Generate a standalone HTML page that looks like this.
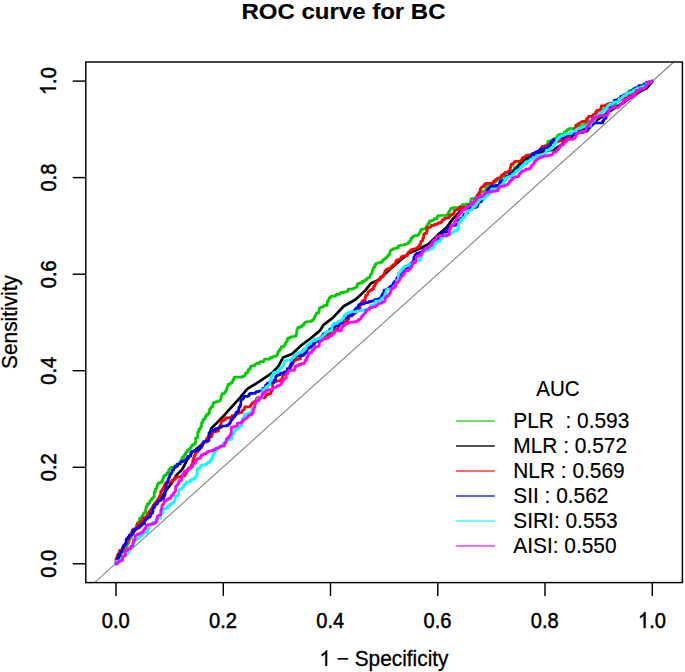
<!DOCTYPE html>
<html><head><meta charset="utf-8"><title>ROC curve for BC</title>
<style>html,body{margin:0;padding:0;background:#fff;}body{width:685px;height:672px;position:relative;overflow:hidden;font-family:"Liberation Sans",sans-serif;}</style>
</head><body>
<svg width="685" height="672" viewBox="0 0 685 672" style="position:absolute;left:0;top:0;font-family:'Liberation Sans',sans-serif;">
<rect width="685" height="672" fill="#fff"/>
<g fill="none" stroke-linecap="butt">
<line x1="94.5" y1="582.6" x2="673.8" y2="62.0" stroke="#858585" stroke-width="1.1"/>
<path d="M116.0,563.8V562.7H117.1V562.2H117.7V561.7H118.3V559.6H119.4V558.5H120V557.4H120.6V553.1H121.7V552.6H122.9V552.1H123.4V551.5H124V551H125.1V549.9H125.7V548.9H126.3V546.7H126.9V545.1H127.4V544.6H128V543H128.6V542.5H129.1V539.8H129.7V538.2H130.9V537.1H131.4V535.5H132V533.9H132.6V533.4H133.2V532.3H133.8V529.5H134.4V529H135V528.4H136.1V527.3H136.7V526.7H137.3V522.8H138.4V522.2H138.9V521.2H139.5V518.4H141.1V517.9H141.6V516.8H142.1V515.7H143.2V513.5H144.4V512.3H145.6V508.9H146.2V507.2H146.7V505.5H147.3V503.9H148.8V502.7H149.9V500.5H151V499.9H151.5V499.3H152V498.1H153.1V497.5H153.6V497H154.2V492H155.3V489.3H155.9V488.8H156.4V488.2H157V485.5H157.6V483.9H158.1V483.4H158.7V482.9H160.9V481.8H162.5V478.9H163V478.3H163.5V476.6H164V476H164.6V475.4H166.3V474.2H166.8V473H168.5V470.4H168.9V469.3H170V468.7H170.5V468.2H171V467.6H171.6V467.1H174.3V465.9H175.3V465.4H175.9V464.8H177V464.2H178.7V463.7H179.8V462.6H180.4V461.5H181V459.8H181.5V459.2H182.1V457.6H182.7V457H183.8V455.9H184.3V454.8H184.9V454.2H185.9V452H187V451.5H187.6V449.8H189.2V449.2H190.2V448.1H190.8V447.6H191.3V446.4H191.8V445.3H193.4V444.2H195.1V443.1H195.6V438H197.2V437.5H197.7V432H198.8V429.2H200.4V427.6H200.9V427.1H201.5V422.7H202.6V421H203.2V419.4H204.8V418.3H205.3V416.6H206.4V414.9H207.5V413.8H209.1V412.2H209.6V408.9H210.7V407.8H211.3V406.7H212.9V403.4H214V402.3H215.6V401.8H217.8V401.2H219.4V400.7H219.9V400.2H220.5V399.6H221V396.4H221.6V394.7H222.1V393.6H224.4V393H224.9V391.9H225.5V391.4H226V390.3H226.5V389.2H227V387.1H227.5V386.5H228V384.4H230.1V383.3H231.2V382.7H232.3V381.6H232.8V379.9H233.9V377.7H234.4V377.2H242.7V376.1H244.3V375.5H245.4V373.3H246V372.8H247.7V371.1H248.2V369.5H250V367.9H250.6V366.3H251.8V365.8H254.6V364.6H255.2V364H256.9V363.4H259.2V362.3H260.3V361.7H263.6V361.2H264.1V359.6H264.7V359.1H270.1V357.9H270.7V357.3H272.9V356.7H274V356.1H276.7V355.5H277.2V354.4H277.7V352.2H278.3V351.7H278.8V350.5H279.9V348.9H281V347.8H281.5V346.6H284.2V345.5H284.8V345H285.3V343.3H285.9V342.2H286.4V341.6H287V341.1H287.5V338.3H289.2V337.8H289.7V337.3H290.8V336.8H294.2V336.2H295.8V335.7H296.3V333.5H296.8V329.6H297.4V329H297.9V327.3H300.1V326.8H301.7V325.7H302.3V325.1H303.9V323.4H304.9V322.3H306V321.8H307.7V321.5H311.7V320.4H313.3V319.3H313.8V318.8H314.4V317.2H314.9V316.1H315.5V315H316V314H316.5V312.9H318.8V311.2H319.3V308.3H319.9V307.7H321V307.1H323.3V305.9H325V305.3H327.3V301.3H328.5V299.6H329.1V297.9H330.3V297.3H330.8V296.7H331.4V296.1H335.8V294.9H336.3V294.3H339.7V293.2H340.9V292.7H343.7V292.1H346V291.5H347.6V290.9H348.2V289.1H352.6V288.5H354.3V288H355.4V287.4H356V286.9H357.1V284.6H357.7V283.5H359.9V282.9H362.2V281.3H364.5V280.2H365.6V279.6H366.7V278.5H367.8V277.9H369.4V277.4H370V275.7H370.5V274.1H371.6V273.5H372.1V271.3H372.6V269.7H373.1V268H373.7V267.5H374.2V266.9H374.8V264.6H375.9V263.5H377.6V262.9H379.8V262.3H382V261.2H383.2V259.6H384.3V259H384.8V258.5H385.4V257.9H386.6V257.3H387.1V256.7H387.7V256.1H388.3V255H388.8V254.4H390V251.2H390.6V250.1H391.7V249.6H393.4V248.5H396.1V247.9H398.4V246.1H398.9V245.5H401.2V245H404.5V244.5H405.1V244H407.9V243.4H408.5V241.8H410.1V240.7H410.7V238.4H412.3V236.8H413.4V236.2H414.5V235.6H417.8V235.1H418.3V234.6H418.9V233.5H419.5V232.4H420.1V231.8H420.7V230.2H421.3V229.1H424.8V228.4H426.5V225.7H427.6V224.7H428.1V223.6H428.6V223H429.1V222.5H429.7V220.9H431.9V220.4H433.6V219.8H434.2V218.7H437V216.5H438.1V215.5H446.4V215H448V212.8H449.2V211.1H449.8V210.5H450.4V208.9H451V208.3H453.1V207.5H459.6V206.9H460.1V206.3H462.3V204.6H465.6V204.1H470.4V201.9H470.9V199.1H471.5V198.5H474.8V197.9H476V196.7H477.2V195.5H477.8V194.3H478.9V193.8H480V193.2H480.5V192.6H481.1V191.5H484.4V190.9H484.9V190.3H486V186.4H486.6V185.3H488.2V184.8H491V183.7H493.2V183.1H493.8V182.6H494.9V182H496V180.9H496.6V179.2H499.4V178.6H499.9V178.1H501.6V177.5H502.7V176.4H503.3V175.8H503.8V175.2H504.4V174.7H505.5V173.6H506.1V173H507.7V172.4H508.8V171.3H510.5V170.7H513.2V170.1H514.3V167.3H516.4V166.7H517V166.2H517.5V165H518.6V164.5H519.1V163.4H519.7V162.8H520.2V162.2H522.4V161.7H523.5V161.1H525.6V160.6H526.7V160H529.4V159.5H530V158.9H531.6V157.9H532.2V157.3H534.9V156.8H536V156.2H536.5V155.7H537.1V153.5H537.6V152.4H538.1V151.4H538.7V150.8H539.2V150.3H541.4V149.2H541.9V148.6H545.2V146.4H545.7V145.3H547.4V143.1H547.9V141.4H549V140.9H551.7V140.3H552.2V139.8H553.3V139.2H554.4V138.6H556V138.1H556.6V137.6H557.1V136.5H557.7V135.4H558.8V134.8H559.8V134.3H563.6V133.7H564.2V132.1H565.3V131.5H566.9V130.3H567.4V129.7H569.1V128.5H575V127.4H575.5V126.9H577.2V126.4H577.7V125.9H583.2V124.8H584.8V123.7H585.4V123.2H586.5V122.7H587V122.1H588.1V121.6H588.7V121.1H591.4V120H592V119H592.6V118.4H593.7V117.4H594.2V115.8H594.8V114.7H598.1V114.1H599.7V110.8H600.2V110.2H602.9V109.6H603.9V109H605V108.4H606.7V106.7H609.4V106.1H610V105.5H612.7V105H615.4V103.4H615.9V101.8H618V100.7H618.6V100.2H619.6V99.1H620.7V98.5H621.8V98H622.3V96.3H623.9V95.8H625.5V95.2H626.6V94.1H627.7V93.5H628.3V92.3H628.8V91.8H629.4V90.6H631.6V90H632.8V89.4H633.3V88.8H636.1V87.6H637.7V87H641V86.4H642.1V85.2H643.2V84.6H646.5V84H647V83.4H649.1V82.8H651.2V81.1H652.3" stroke="#00CD00" stroke-width="2.7" stroke-linejoin="round" stroke-linecap="round"/>
<path d="M116.0,563.8 L121.0,552.0 L126.0,543.0 L130.0,536.0 L137.0,528.0 L145.0,519.0 L150.6,510.2 L158.0,501.0 L165.0,492.0 L171.5,483.4 L176.4,475.2 L182.3,469.3 L186.8,460.4 L192.0,452.5 L200.0,446.0 L207.6,439.5 L211.3,428.4 L222.5,417.2 L234.4,403.8 L239.9,397.8 L247.3,388.9 L260.7,380.7 L272.6,372.5 L278.6,365.8 L283.0,357.6 L292.0,353.9 L300.9,345.7 L309.8,339.0 L319.9,330.8 L323.6,324.8 L332.5,318.1 L343.7,306.2 L355.6,299.5 L364.5,291.3 L371.2,283.2 L377.9,280.2 L385.4,273.5 L392.8,266.8 L400.0,260.5 L409.3,252.9 L419.8,248.5 L428.7,244.0 L437.6,235.1 L446.5,227.6 L452.5,219.4 L461.4,209.8 L470.0,205.3 L479.0,198.5 L485.0,194.8 L502.7,182.0 L516.1,168.6 L523.6,159.6 L534.0,155.0 L544.4,150.7 L553.3,150.0 L559.3,146.3 L565.2,141.8 L575.0,133.5 L586.0,127.0 L595.2,121.5 L610.0,111.0 L625.0,101.5 L638.4,92.4 L646.7,88.4 L652.3,81.1" stroke="#000000" stroke-width="2.7" stroke-linejoin="round" stroke-linecap="round"/>
<path d="M116.0,563.8V558.8H116.5V558.2H117V556.6H117.5V554.9H118V554.3H118.5V553.8H119V552.1H119.5V550.5H120.1V550H122.5V549.4H123V548.3H123.5V545.6H125V545H125.6V543.9H126.2V543.4H126.8V542.8H127.4V541.2H128V538H129.1V537.5H129.7V534.7H130.9V534.2H131.4V532.5H132V530.8H132.6V529.7H134.3V528.5H136.6V525.2H137.1V524.6H137.7V523.5H140.6V521.3H141.7V520.8H142.2V519.7H143.3V517.5H147V517H147.6V513.8H148.7V511.7H150.3V510.6H152V507.9H152.6V506.8H153.1V505.2H154.3V503.6H154.9V503.1H156V501.4H157V500.3H158.1V499.1H158.6V498H159.1V496.8H159.6V496.2H160.2V494.5H160.8V491.1H162V490H162.6V488.9H163.1V487.7H164.2V485.5H164.8V484.3H165.4V483.1H168.1V482.5H170.4V481.9H171.5V481.3H172.1V480.1H173.7V479.6H174.8V479H175.4V477.8H175.9V477.1H180.4V476.5H181.5V476H184.8V474.3H185.4V473.8H185.9V472.7H186.5V472.2H187V470H188.1V468.3H188.7V467.8H190.9V467.3H191.5V464.6H192.6V461.3H193.1V460.2H193.6V458.1H194.2V455.9H194.7V455.3H195.3V453.6H195.8V452.5H196.9V451.9H197.5V450.8H198.6V450.2H199.1V448.5H200.2V448H200.7V446.9H201.3V445.3H201.8V444.2H202.9V443.7H203.4V442.6H204V442.1H206.1V439.4H206.6V438.9H207.2V437.8H209.4V437.2H211V436.7H211.6V435.6H212.1V434H212.6V431.7H215.9V431.2H218V430.6H218.6V428.4H219.2V427.8H219.8V425.6H220.4V425H221V421.2H222.6V420.1H224.8V419.5H225.4V418.4H225.9V417.9H230.4V417.3H232.1V415.7H234.4V415.1H236V414.5H236.6V413.3H238.8V412.7H241.5V412.2H242.1V411.1H242.6V410H243.7V409.5H244.2V408.4H244.8V406.8H250.2V406.2H250.7V405.1H251.3V404.5H251.8V403.4H252.4V402.8H253.5V402.3H254.1V401.7H256.4V398.9H257V397.8H264.8V397.3H265.3V396.7H265.8V395.2H266.4V394.6H268V394.1H269.6V393.6H270.8V391.9H271.4V390.3H272.6V383.3H273.2V382.7H273.7V382.2H274.3V381.6H276.5V381H279.3V380.5H280.4V379.9H282.1V377.7H282.6V375H283.7V373.4H286V372.9H286.6V372.3H287.1V371.8H288.2V370.2H288.8V369.6H289.4V369.1H289.9V368H290.5V366.9H291V365.9H291.6V364.8H292.7V363.2H293.2V362.1H293.8V360.5H295.4V360H296V359.4H298.7V358.9H300.4V356.6H300.9V352.7H301.5V352.1H302.1V351.6H303.3V349.9H303.9V348.9H306.1V348.3H308.8V347.3H309.3V346.7H309.8V345.1H310.4V343.5H310.9V343H312.5V342.4H313.6V341.3H314.7V339.7H318.4V339.1H318.9V338H321.7V337.5H323.9V336H325V335.5H327.8V334.4H328.9V333.9H329.4V333.4H330V332.8H333.3V332.3H333.8V330.1H334.9V329.6H337.1V329H338.1V326.3H339.2V324.6H339.8V324.1H341.4V323.5H342V322.9H342.6V322.4H344.8V321.8H346.5V320.7H347.6V320.2H348.2V319H348.8V316.2H351.6V315.7H352.2V315.1H352.8V314.6H353.9V313.5H354.5V312.9H355.6V311.8H357.2V310.7H359.4V309.6H359.9V305.7H360.4V305.1H361V304.6H361.5V302.3H362V301.2H362.6V300.7H363.7V300.1H365.3V296.8H365.9V295.1H367.5V294H368V291.8H369.1V291.3H369.7V290.7H370.2V290.2H371.9V289.1H373.5V286.4H374.7V285.3H375.2V283.2H376.4V281.6H377.5V281H378.1V279.9H379.8V279.4H380.3V277.2H382.6V276.6H383.2V275.5H383.8V274.4H384.4V272.6H384.9V270.9H385.5V270.4H386.1V269.8H386.7V269.2H388.4V268.6H390.7V268H391.3V266.2H392.3V265.7H392.9V265.1H393.4V264.5H394.4V264H395.5V262.2H396V260.5H397.1V260H398.7V259.4H400.8V257.7H401.4V256.6H403V256H406.9V255.5H407.5V253.3H408.6V251.6H410.8V249.9H412.4V249.4H413.5V249H415.2V248.5H416.8V248H417.4V247.4H418V246.9H418.5V246.4H419.1V245.3H419.7V244.8H420.3V244.2H420.8V241.5H421.4V241H422.6V238.8H423.2V237.8H423.7V234H424.9V233.4H426.6V231.3H427.2V227.5H430V227H431.1V225.4H434.4V224.4H436.5V223.9H438.2V222.8H441V221.8H442.1V220.2H442.7V219.6H444.4V218.4H446.7V217.8H448.9V217.2H449.5V216.6H450V215.4H451.1V214.9H451.6V214.3H453.2V213.7H453.8V212.6H454.4V210.5H455.6V210H456.8V209.5H458.9V209H459.5V207.4H467.4V206.8H470.8V206.2H471.9V205.7H472.5V203.9H473.6V203.3H474.1V201.1H474.7V200H476.3V197.8H477.4V195.2H478V194.7H478.6V193.6H479.1V192.5H479.7V191.9H480.2V189.2H480.7V188.6H481.2V187.5H481.7V187H483.3V185.9H484.4V184.3H485V183.9H486.1V183.4H492.3V182.9H492.8V182.3H493.4V181.3H495V180.2H495.5V179.6H497.2V178.5H497.7V178H500.4V176.9H501.5V175.2H502.6V174.7H503.7V174.1H504.2V173H505.3V172.4H508.6V170.8H509.7V170.2H510.2V167.5H510.7V165.8H511.3V164.1H513.5V163H514.1V161.9H515.1V161.3H520.5V160.7H521V160.1H522.1V157.8H523.2V157.3H524.9V156.3H526V155.7H527.1V155.2H531.5V154.1H532.1V153.6H533.7V153.1H534.8V152.6H535.4V152H536.5V151.5H538.6V150.9H540.2V149.8H540.8V149.2H541.3V147.5H541.8V146.9H542.4V146.3H545.1V145.8H547.8V144.8H549.5V144.2H550.6V143H552.9V142.4H554V141.8H557.9V140.8H562.7V140.3H563.8V138.7H566.1V138.1H566.6V137.6H567.7V137H568.9V136.5H570V133.8H570.5V133.2H571.1V132.7H572.7V131.7H573.2V130.6H574.3V129.5H574.8V129H575.9V125.2H577.6V124.6H578.1V123.5H579.8V123H580.3V122.5H581.4V121.9H582.5V121.3H585.8V120.8H586.3V119.7H586.9V118.6H588V116.9H589.1V116.3H593V114.7H594.1V114.1H595.2V113.6H595.7V111.9H596.8V110.3H599.6V109.7H600.7V108.6H601.2V105.9H605.5V105.2H607.1V104.1H608.7V103.6H612V103.1H614.2V102.6H615.3V102H615.8V101.5H616.9V101H618V100.5H619.6V100H620.2V99.4H623.4V98.4H624V97.9H624.5V96.8H629.4V95.7H630V95.2H631.1V94.6H632.7V94.1H633.9V92.9H636.1V92.4H637.2V91.8H638.3V90.1H638.9V89.6H639.4V89H642.2V88.4H643.2V86.1H646.5V85H647.5V84.4H648.1V83.9H649.1V82.2H649.6V81.7H652.3V81.1" stroke="#FF0000" stroke-width="2.7" stroke-linejoin="round" stroke-linecap="round"/>
<path d="M116.0,563.8H117V559.1H117.5V558H118V557.5H118.5V554.3H119.6V553.2H120.7V552.1H121.3V551H121.8V550.5H122.4V547.8H122.9V547.3H123.5V545.6H124.5V544.5H125V544H125.6V543.4H126.1V539.5H126.6V538.9H127.2V538.3H127.7V537.8H128.2V537.2H128.7V536.6H129.3V535.5H129.8V535H132V532.8H132.5V532.2H133.1V530H133.6V529.5H135.8V529H136.9V528.4H138V527.9H138.6V527.4H139.7V526.8H140.2V526.3H140.8V525.7H141.4V524.7H142.5V524.1H143V523.6H144.7V520.9H145.2V519.9H145.8V519.3H146.8V518.8H147.4V518.2H147.9V517.2H150.1V516.1H150.6V513.9H151.2V513.3H152.4V512.2H153V508.3H153.6V507.2H154.7V505.6H155.3V504.5H156.4V504H157.5V502.4H158.1V501.3H158.7V500.7H160.4V500.2H161V499.6H161.6V499H163.3V497.9H163.9V496.3H164.5V494.7H165.1V489.8H165.7V489.3H166.3V483.3H166.9V482.2H167.4V481.6H167.9V480H168.5V478.3H169.1V477.2H169.7V474.9H170.3V474.3H170.9V473.7H171.5V472.6H172.1V471H172.6V469.9H173.8V468.3H174.3V467.8H174.9V467.3H175.4V466.7H176.5V466.2H177.6V464H180.3V462.3H180.8V461.8H182.5V461.3H183.6V460.7H185.3V459.7H185.9V459.1H186.4V458.6H187V458H187.5V456.4H189.8V455.9H190.9V452H192V451.4H194.2V450.9H194.8V450.3H198.1V449.8H198.7V449.2H199.8V448.1H200.4V447.6H201.5V445.9H202.1V445.4H202.6V443.7H203.2V442.6H203.8V441.5H207.8V441H208.4V440.5H209V432.9H210.1V431.3H211.3V430.8H212.4V430.2H214.6V429.7H215.1V429.2H215.7V428.7H217.9V428.1H219V427.6H220V427.1H221.7V426.5H222.2V426H226.6V425.4H228.3V424.3H228.8V423.8H229.9V422.7H230.5V421.6H231V419.9H231.6V419.4H232.7V418.3H233.3V417.2H234.4V416.1H235V415.5H235.5V413.8H236.1V412.6H236.7V412.1H237.2V411.5H238.3V410.4H238.9V407.1H240.2V405.4H240.8V400H241.9V399.5H242.5V398.4H243.6V396.3H248.1V395.7H249.2V393.9H250.3V393.3H255.4V392.7H255.9V392.1H256.5V391.6H258.8V391H261.6V390.4H262.8V388.3H265V387.2H265.6V385H266.8V384.5H267.3V383.4H268.5V382.9H273.4V381.8H274V380.2H275.1V379.6H275.6V376.9H276.2V375.8H277.3V375.2H278.9V374.7H280V373.6H280.6V373H283.9V372.5H284.5V371.9H287.2V368.6H289.9V365.8H290.4V365.3H290.9V363.6H292V360.9H292.6V360.4H293.1V358.8H293.7V358.2H294.2V356.6H296.4V356.1H300.7V355.6H302.8V355.1H303.9V354H305V352.9H306V352.3H306.6V351.2H307.1V349.5H307.7V347.8H309.8V347.2H311.4V346H312V344.9H313.6V343.7H314.7V342.6H315.3V342H315.8V341.4H317.9V340.3H319.5V338.6H320V338H321.6V336.4H322.1V335.8H322.7V334.7H323.2V334.2H323.7V333.6H324.8V333.1H326.4V332.5H326.9V332H329.1V330.9H329.7V329.3H330.8V328.7H331.9V328.2H333V327.6H333.5V327.1H335.2V326H336.3V325.5H339V323.3H341.2V322.7H341.8V321.6H342.3V319.9H342.8V319.3H343.9V318.7H345V318.2H347.1V317.6H347.7V317H348.2V315.3H350.5V314.8H352.8V313.1H353.3V311.9H353.9V310.8H354.5V310.2H355V309.6H355.6V308.5H356.7V307.5H358.3V305.4H359.4V304.3H360.4V303.8H364.2V302.7H367.9V302.2H369V301.6H371.2V301.1H373.5V300.6H374.6V299.5H377.9V299H379.6V298.4H380.2V297.9H381.3V296.2H381.8V295.7H382.4V294H382.9V293.5H384V290.2H386.2V289.6H386.8V289.1H387.9V288.5H388.5V288H389.6V286.9H391.3V285.8H392.3V285.3H392.9V284.2H393.4V283.1H393.9V282.6H394.4V282.1H395V281H396.6V278.8H397.1V277.7H398.3V276.6H400V275H400.6V274.5H401.7V273.4H402.2V272.8H403.3V270.7H404.4V269.6H405V268H407.8V266.9H408.3V265.8H408.9V264.7H410.5V264.1H411.1V263H412.2V262.4H412.7V261.9H413.3V260.7H413.8V257.4H414.3V256.9H414.9V255.3H415.4V254.7H416V254.2H416.5V253.7H417.1V253.1H419.8V252.6H420.4V252.1H421.5V251.5H422V251H423.1V249.9H423.6V249.3H425.2V248.8H425.7V248.2H426.8V247.7H427.9V247.1H428.4V246.6H428.9V246H430V245.5H430.5V243.8H431.1V243.3H435.4V242.7H435.9V241.1H436.5V240.5H437V240H437.5V239.4H438.1V238.9H438.6V237.7H439.2V237.2H439.7V236.6H440.2V236H441.9V233.8H442.4V232.7H442.9V232.1H446.8V231.5H447.3V229.9H447.9V228.8H448.4V227.7H449.5V226.1H451.8V225.5H455.1V225H457.3V223.9H458.4V220.6H459V220H460.1V219.5H460.7V218.4H461.9V217.8H463V217.3H463.6V215.1H464.2V214H467V212.9H467.5V210.7H468.1V210.2H468.7V209.6H469.8V208.1H470.3V207.5H475.9V207H477V206.4H477.5V205.3H478V203.6H478.5V201.9H481.3V199.6H482.9V198H483.4V197.4H483.9V194.6H485.5V194.1H486V193.5H486.5V193H487V192.5H487.5V189.8H488V188.7H489.1V188.1H489.6V187H490.8V186.4H492V185.8H495.9V185.3H499.1V184.7H499.7V182.1H500.2V181H501.3V180.5H505.1V180H505.7V177.3H506.2V176.7H507.8V176.2H509.5V174H511.7V173.5H512.8V172.9H514.5V171.3H515V170.3H516.1V169.2H518.4V168.7H518.9V168.2H520V167.6H520.6V167.1H521.7V166H522.3V165.5H523.4V165H523.9V163.9H524.5V163.4H526.2V162.3H527.8V161.7H528.4V160.1H529.5V159.6H530.1V156.9H531.2V155.8H531.7V154.7H534V153.1H535.7V152H537.4V151.5H539.1V150.4H539.6V149.8H540.2V149.2H544.6V148.1H547.4V147H548.5V145.8H549.5V145.3H550.6V143H551.1V141.8H552.2V141.2H552.8V140.6H553.3V140H553.9V139.4H557.2V138.8H558.4V138.2H562.8V137.1H565V136H565.6V135.4H566.1V134.9H569.4V134.3H576.9V132.5H583.4V131.5H586.7V130.5H587.8V128.3H589.4V127.7H589.9V126H591.6V124.9H592.1V124.4H593.2V123.8H593.7V123H602.6V120.8H603.8V119.2H604.4V118.6H605.6V118H606.1V115.2H606.6V114.1H607.1V112.4H607.7V111.3H608.3V110.2H608.8V109.7H610V108H610.6V107.5H611.7V105.3H612.3V104.3H613.4V103.7H613.9V101.1H614.5V100H617.7V99.5H618.2V98.9H619.3V98.4H620.4V97.4H620.9V96.3H623.1V95.2H625.2V94.7H625.7V94.2H626.8V93.1H629.5V92H630.6V91.5H632.2V90.4H632.8V89.9H633.4V89.4H634.5V88.3H636.2V87.8H636.7V87.3H638.4V86.7H638.9V85.5H644.3V83.8H645.9V83.2H646.4V82.7H647V82.2H651.8V81.1H652.3" stroke="#0000FF" stroke-width="2.7" stroke-linejoin="round" stroke-linecap="round"/>
<path d="M116.0,563.8V562.7H116.6V561H119.5V560.5H120.1V560H121.2V558.9H122.3V556.8H122.8V556.3H124.4V555.7H125V555.2H125.5V554.6H127.1V554.1H127.7V553.5H128.2V551.9H128.7V550.7H129.3V548.5H129.8V547.4H131.4V546.8H132V546.3H132.5V545.7H133.6V543H134.2V542.4H134.7V540.2H136.4V538.5H138V537.9H139.1V536.8H139.7V536.3H141.4V535.7H142.5V533.5H143.6V532.4H147V531.3H148.1V529.1H148.6V528H149.2V525.8H149.8V525.2H150.9V524.6H152V523.5H152.6V522.4H156V518.5H160.5V515.1H161.1V514H162.2V512.9H162.7V512.4H163.3V509.6H163.9V509.1H164.4V508.5H166.7V507.9H167.8V505.7H170V504.1H171.1V503.5H172.7V502.5H174.3V500.3H174.8V498.7H175.4V496.5H175.9V496H177V495.5H177.5V494.9H178.6V490.1H179.2V489.5H180.8V489H181.9V487.9H182.5V486.8H183V486.3H184.1V484.6H185.3V484.1H185.8V483.5H186.4V481.9H190.2V480.2H191.2V479.7H192.3V479.2H194.5V477.5H195.6V477H196.1V476.4H196.7V474.2H197.2V469.3H198.3V468.2H199.5V467.6H200.6V465.9H201.2V465.4H201.8V464.8H206.2V464.3H206.8V463.2H207.9V462.7H209.5V461.1H210.6V460H211.2V458.4H212.8V455.7H213.4V454.6H214V453H214.5V451.9H215.1V451.4H215.6V450.9H216.2V450.3H216.7V449.8H217.2V448.7H218.3V448.2H218.8V447.6H219.9V447.1H220.4V446.5H221.5V446H222.6V444.4H223.7V442.7H225.9V440.6H227V440H228.6V439.5H231.4V438.4H232V434.9H232.6V434.4H233.2V433.2H234.4V431.6H234.9V429.9H236V429.4H236.6V428.8H237.1V428.3H238.8V427.2H239.3V426.6H240.4V426.1H241.5V425H242V419H243.7V417.3H244.2V416.2H244.8V414.1H248.3V413H250V412.5H250.6V411.9H251.7V408.6H253.4V407.5H254V406.5H255.1V404.3H256.2V401H257.3V399.4H257.9V398.9H259V398.3H260.7V397.8H261.2V397.3H262.3V390.8H262.8V389.7H263.9V389.1H264.4V388.6H265.5V387.5H266.1V387H266.6V386.4H268.2V385.9H268.7V384.8H269.8V381.5H270.4V379.9H271.5V375.5H273.1V373.2H273.7V372.7H275.3V372.1H278.1V371.6H278.6V371H279.1V369.3H279.7V368.2H280.7V367.7H281.8V367.1H282.4V366H282.9V365.4H283.4V364.3H284V362.1H284.5V360.9H286.1V360.3H291.5V359.1H292V358H293.6V357H294.1V356.4H295.2V355.3H295.8V354.8H296.8V353.7H297.4V353.2H298.4V352.6H300V352.1H302.2V351.5H302.7V351H303.8V349.3H304.3V348.7H305.9V347.6H306.5V345.9H307V345.3H307.5V344.8H308.6V344.2H309.2V343.7H310.8V342H311.8V341.5H312.4V340.9H312.9V340.4H316.1V339.4H316.7V338.8H318.8V338.3H321.1V337.7H321.7V336.6H322.8V335.6H323.4V335H324V334.5H325.1V333.4H325.7V332.4H326.9V331.8H328.6V331.3H329.2V330.8H331.4V329.7H331.9V326H332.5V324.9H333.6V323.3H337.4V322.2H338V321.7H339.1V321.2H340.3V320.6H342V319.5H342.6V319H343.1V318.5H343.7V316.8H344.3V315.1H344.8V314.6H346V313.5H348.2V312.9H349.3V312.3H351V311.6H357.1V311H361.1V310.4H365V309.3H368.3V308.7H370V307.6H370.5V305.4H374.3V304.3H374.8V302.6H375.3V301H379.7V300.4H381.3V298.6H382.4V298H382.9V297.5H384.5V294.8H385V294.2H385.6V292.6H386.1V290.5H386.6V289.5H387.7V289H392.1V288.4H392.7V287.9H393.3V286.8H394.4V285.7H395.6V285.1H396.2V282.9H396.7V280.7H397.3V280.2H398.4V273.1H399.6V272.6H400.2V271.5H400.8V270.4H401.9V268.8H403.5V267.2H404.1V266.7H405.7V266.1H406.8V265.6H408.9V264H412.7V262.9H413.8V262.3H414.4V261.7H416V261.2H416.5V260.6H419.8V258.9H420.4V258.3H420.9V257.8H421.5V255.5H422V254.4H422.6V253.8H423.1V252.7H423.7V251.6H424.3V251H427.6V250.5H428.7V249.9H429.2V249.4H429.8V248.3H432.5V246.6H434.1V245.5H434.7V242.8H436.8V242.2H437.4V241.7H439V241.1H439.5V240.6H440.6V239H441.1V238.4H442.2V237.4H442.8V236.3H446.6V235.7H447.2V234.7H449.9V234.1H451V233.1H452.1V232H453.7V231.4H454.2V230.9H456.4V230.3H457.4V229.8H458V227.6H458.5V222.7H459.6V221.6H460.6V219.9H462.3V218.8H462.8V218.3H463.3V217.7H464.4V217.2H465V215H465.5V213.9H466.6V211.7H467.2V211.2H468.3V210.6H470.5V210.1H471.1V209.5H472.7V206.8H474.4V206.3H475.5V205.7H476.1V204.6H476.7V202.5H478.3V201.4H478.9V199.8H480V199.2H482.3V198.7H484V198.1H485.1V197.6H485.6V196H486.2V195.4H488.4V194.3H489V193.8H489.5V193.2H490.1V192.7H490.6V192.1H491.2V189.4H492.8V188.8H497.7V188.2H498.7V187.6H499.8V186.4H500.4V185.3H501.5V184.7H502.1V184.2H503.2V183.1H503.8V181.4H504.4V180.8H504.9V179.7H505.5V178.6H506.1V178.1H506.6V177.5H508.3V176.9H509.4V176.3H512.2V174.6H512.8V174H514.4V173.5H515V172.3H516.1V171.2H517.2V170.1H518.9V169.6H519.5V169H520V168.5H520.6V166.8H521.7V166.3H522.8V165.7H524V165.2H524.5V164.1H525.1V162.9H525.7V162.4H526.8V161.8H528.5V161.2H529.1V160.6H530.2V159.5H531.9V158.9H533.1V157.3H536.4V155.7H538.1V155.2H541.9V154.6H544.6V154H545.1V153.5H545.7V152.3H546.2V150.6H546.8V150H549.4V149.4H550V148.8H551.6V148.3H552.1V147.7H552.7V147.1H553.2V146H553.7V145.4H554.8V143.7H555.4V143.2H555.9V142.1H556.5V139.4H557.6V138.4H558.7V137.3H560.3V136.7H560.9V136.1H561.4V135.5H564V134.9H565.1V133.8H570V133.3H571.7V131.7H572.8V131.2H576.1V129.5H577.2V128.9H579.4V128.3H581.1V127.7H581.7V127.2H583.3V126.6H585V126H590.1V125.4H590.6V122.7H591.8V122.1H592.4V121.6H593.5V120.4H594.6V119.3H595.2V116.6H596.3V116H597.4V115.5H598V114.9H599.1V113.8H599.6V113.3H600.2V112.7H602.4V111.1H604.1V110H604.6V109.4H605.2V108.9H606.8V107.8H607.4V106.1H607.9V105.5H609V105H609.6V104.4H612.4V103.8H613.5V102.1H616.4V101.5H618V101H618.6V100.4H619.1V98.8H621.3V98.2H622.3V97.1H622.9V96H624.5V95.5H626.1V94.3H626.7V93.2H630V92.6H630.6V92H632.2V91.5H633.3V90.3H635V89.7H635.6V89.1H637.3V87.9H640.7V87.3H641.3V86.8H642.9V86.2H645.7V85.2H646.2V83.6H647.9V82.6H650.6V81.6H652.3V81.1" stroke="#00FFFF" stroke-width="2.7" stroke-linejoin="round" stroke-linecap="round"/>
<path d="M116.0,563.8V563.2H117.6V562H119.3V560.8H121.5V560.3H122.6V556.4H123.7V555.9H125.3V551.5H125.8V550.9H126.8V550.4H127.3V549.3H128.4V548.7H130.6V547H131.2V545.9H132.8V542.6H133.4V539.8H135V535.3H136.7V534.8H137.2V534.2H140V533.1H141.1V532.5H142.8V530.9H143.9V529.3H145V528.2H146.1V525.5H147.7V524.5H150.4V524.1H152.5V523.6H154.7V523.1H155.3V522.5H155.8V522H156.9V518.8H157.4V516.1H158V515.6H159.1V515H160.8V510.1H161.4V508.4H161.9V505.7H162.5V504.6H163.6V503.5H164.1V501.2H165.8V500.7H166.3V500.1H166.9V499.6H168.5V498.4H170.7V496.8H171.2V495.7H172.3V495.1H173.4V493.4H174V492.9H174.5V491.8H175.1V491.2H175.6V486.4H176.2V485.8H176.7V485.3H177.3V484.8H177.8V483.7H178.4V483.1H178.9V480.9H180.5V480.3H181.5V478.6H182V477.5H182.6V474.2H183.1V473.6H184.2V471.9H185.3V470.8H187.6V470.3H188.1V469.2H188.7V468.6H190.4V467H192.7V464.8H193.3V463.7H194.9V463.2H195.5V460.5H196.6V458.9H198.3V458.3H200.5V456.6H201.1V455.4H202.2V454.9H203.3V454.3H203.9V453.7H206.1V453.2H206.6V452.6H207.7V451.5H209.3V451H212V450.4H213.1V449.9H214.7V449.4H215.3V448.8H215.8V448.3H217.5V447.8H218.6V447.3H219.7V446.7H220.3V446.2H223.6V445.6H224.7V442.9H225.8V442.3H226.3V439H226.9V438.4H228V437.9H228.5V436.7H229.7V435.6H230.2V434.5H230.8V433.4H231.4V427.2H233.6V426.7H234.7V426.1H237.4V423.2H241.2V422H242.8V420.2H244.4V419H244.9V418.5H246.5V417.9H247.1V417.3H248.1V416.2H248.7V415H250.8V414.4H252V413.3H252.6V412.8H253.2V410H253.8V408.3H254.3V407.2H254.9V403.3H256V401.1H257V400.6H259.2V397.8H260.9V397.2H261.5V396.1H262V394.3H263.1V392.6H264.8V392H265.4V391.4H266.5V390.2H268.3V389.6H271.6V389.1H272.2V388.5H273.3V388H274.4V387.5H276V387H276.6V386.4H277.1V385.9H278.8V385.3H279.9V384.8H281.1V382.5H282.2V381.9H282.8V380.8H283.4V379.6H284.5V378H286.2V373.7H287.9V371H289V370.4H294.4V368.8H294.9V367.6H295.5V366.4H296.1V365.8H298.4V364.7H300.6V364.2H301.2V363.6H304.5V362.5H305V360.4H306.7V357.2H307.7V356.1H308.3V354H308.9V353.4H309.4V352.9H311.7V351.3H312.2V350.2H313.3V349.7H313.9V349.1H314.4V347.6H316.1V346.5H318.8V345.4H319.4V342.2H319.9V341.1H320.5V340.6H322.1V339.5H323.8V339H325.9V338.5H327.5V337.9H328.1V337.4H329.1V336.3H330.2V335.7H331.8V335.2H332.3V334.1H333.4V333.5H334.5V331.9H335V331.4H335.6V330.8H340.9V330.3H341.5V328.1H342V327.5H342.5V326.4H343.1V325.9H343.6V325.3H345.2V324.2H345.7V323.6H347.9V323H349V322.4H352.3V321.8H356.1V321.2H358.3V319.6H359.9V319H360.4V318.5H361V317.4H361.5V316.9H362V315.8H362.6V315.3H363.7V314.2H364.2V313.6H364.8V313.1H365.3V312.6H365.9V310.4H367.5V309.9H369.1V308.7H369.7V307.6H372.4V307H374.6V306.4H375.7V305.8H376.3V305.3H377.4V304.7H378V303.5H381.3V303H381.8V302.4H382.4V301.8H384V301.3H385.1V298.6H385.7V297H386.8V295.9H388.5V294.8H389V294.2H389.6V293.7H390.2V292.5H390.7V289.7H391.3V289.1H393V288H393.5V287.5H395.2V286.4H395.8V283.2H396.3V282.7H398V282.1H398.6V281H399.1V280.5H399.7V279.4H400.2V277.8H400.7V277.3H401.2V276.7H401.8V275.6H403.3V273.5H404.9V270.8H408.3V270.3H408.9V269.2H410.6V267.5H411.2V267H411.7V266.4H412.3V263.7H413.4V263.1H413.9V262.6H415.6V261.5H416.1V257H417.2V256.5H417.8V255.9H418.8V255.4H421V253.7H422.1V252.1H422.6V250.4H424.2V249.9H424.7V248.8H425.3V248.2H428V247.1H428.5V246.6H429.6V245.5H431.7V243.2H432.3V242.7H432.8V241H433.4V240.4H434.5V239.9H435.1V239.3H436.3V237.1H436.8V236.5H439.7V236H440.2V235.6H446.5V235.1H448.7V234.5H449.3V229.5H450.4V227.2H451V225.6H452.2V224.5H454.5V221.8H455V221.2H456.2V219.6H456.7V218.5H457.3V217.5H457.8V216.4H458.3V214.8H459.4V214.2H459.9V213.2H461V212.1H462V210H464.1V209.4H465.7V207.7H466.2V206.6H468.5V206H470.2V205.4H470.8V204.2H472.5V203H473.1V201.9H474.8V200.7H476V197.9H477.1V197.3H479.3V196.8H481V195.7H483.2V195.1H484.2V194.1H484.8V193H485.3V192.5H488.8V191.7H492.8V191.2H496.8V190.7H497.9V189.1H498.5V187.5H499.6V186.4H503.6V185.8H505.3V185.2H506.4V184.7H508.1V184.1H508.7V183H509.2V181.3H510.8V180.2H511.4V179.7H512.5V178H514.1V177.5H515.1V176.9H517.3V176.4H518.4V175.8H519V174.1H520.1V173H520.6V172.5H521.2V171.9H521.7V171.4H522.8V170.8H524.5V170.3H525.6V169.2H528.9V168.6H530.6V167.5H531.1V165.9H531.7V165.4H532.8V164.3H533.3V163.8H533.9V163.2H534.4V161.6H535V161.1H536V160H537.1V159H538.2V158.5H539.3V157.9H539.8V157.4H541.9V156.9H543V156.3H544.1V155.8H548.4V155.2H551.7V154.7H552.3V154.1H552.9V153.1H553.5V152.6H554V152H556.3V150.3H557.4V149.8H558V149.2H558.6V148H559.1V147.5H560.2V146.3H560.8V145.7H561.3V145.2H561.9V144.6H564V143.5H564.6V142.3H565.2V141.7H566.3V140.6H566.9V139.4H572.5V138.9H573.1V138.3H574.8V137.3H575.3V136.8H575.9V134.1H576.4V133.6H578.1V132.5H579.8V132H581.9V131.4H584.7V130.8H585.2V130.2H585.8V129.6H586.3V127.3H586.9V126.7H587.5V126.2H588.1V125.1H589.3V124.5H589.8V121.8H591.5V121.3H592.6V120.7H593.1V118.6H595.4V117.4H595.9V116.8H598.7V116.2H599.8V115.6H605.8V115.1H607.4V114.5H608V111.8H608.5V111.2H609V110.1H609.6V109.6H610.1V109H611.2V108.4H611.8V107.9H612.3V107.3H618.4V106.7H619V106.2H619.6V105.1H620.1V104.5H621.2V104H622.4V103.4H623.5V100.2H626.3V99.6H627.4V99.1H627.9V98.6H629.1V97.5H629.6V97H633V95.3H633.5V94.8H635.2V93.7H635.8V92H636.3V90.3H640.2V88.5H644.7V87.3H645.8V86.2H646.4V84.6H647.6V83.5H648.2V82.9H649.4V81.7H652.3V81.1" stroke="#FF00FF" stroke-width="2.7" stroke-linejoin="round" stroke-linecap="round"/>
</g>
<g fill="none" stroke="#000" stroke-width="1.45" stroke-linecap="square">
<rect x="85.8" y="62" width="596.6" height="520.6"/>
</g><g fill="none" stroke="#000" stroke-width="1.45" stroke-linecap="butt">
<line x1="116.0" y1="582.6" x2="116.0" y2="595.9"/>
<line x1="72.7" y1="563.8" x2="85.8" y2="563.8"/>
<line x1="223.3" y1="582.6" x2="223.3" y2="595.9"/>
<line x1="72.7" y1="467.3" x2="85.8" y2="467.3"/>
<line x1="330.5" y1="582.6" x2="330.5" y2="595.9"/>
<line x1="72.7" y1="370.7" x2="85.8" y2="370.7"/>
<line x1="437.8" y1="582.6" x2="437.8" y2="595.9"/>
<line x1="72.7" y1="274.2" x2="85.8" y2="274.2"/>
<line x1="545.0" y1="582.6" x2="545.0" y2="595.9"/>
<line x1="72.7" y1="177.6" x2="85.8" y2="177.6"/>
<line x1="652.3" y1="582.6" x2="652.3" y2="595.9"/>
<line x1="72.7" y1="81.1" x2="85.8" y2="81.1"/>
</g>
<g fill="#000">
<text transform="translate(115.70,628.00) scale(0.905,1)" text-anchor="middle" font-size="22.2" stroke="#000" stroke-width="0.5" xml:space="preserve">0.0</text>
<text transform="translate(55.90,563.80) rotate(-90) scale(0.905,1)" text-anchor="middle" font-size="22.2" stroke="#000" stroke-width="0.5" xml:space="preserve">0.0</text>
<text transform="translate(222.96,628.00) scale(0.905,1)" text-anchor="middle" font-size="22.2" stroke="#000" stroke-width="0.5" xml:space="preserve">0.2</text>
<text transform="translate(55.90,467.26) rotate(-90) scale(0.905,1)" text-anchor="middle" font-size="22.2" stroke="#000" stroke-width="0.5" xml:space="preserve">0.2</text>
<text transform="translate(330.22,628.00) scale(0.905,1)" text-anchor="middle" font-size="22.2" stroke="#000" stroke-width="0.5" xml:space="preserve">0.4</text>
<text transform="translate(55.90,370.72) rotate(-90) scale(0.905,1)" text-anchor="middle" font-size="22.2" stroke="#000" stroke-width="0.5" xml:space="preserve">0.4</text>
<text transform="translate(437.48,628.00) scale(0.905,1)" text-anchor="middle" font-size="22.2" stroke="#000" stroke-width="0.5" xml:space="preserve">0.6</text>
<text transform="translate(55.90,274.18) rotate(-90) scale(0.905,1)" text-anchor="middle" font-size="22.2" stroke="#000" stroke-width="0.5" xml:space="preserve">0.6</text>
<text transform="translate(544.74,628.00) scale(0.905,1)" text-anchor="middle" font-size="22.2" stroke="#000" stroke-width="0.5" xml:space="preserve">0.8</text>
<text transform="translate(55.90,177.64) rotate(-90) scale(0.905,1)" text-anchor="middle" font-size="22.2" stroke="#000" stroke-width="0.5" xml:space="preserve">0.8</text>
<g transform="translate(652.00,628.00) scale(0.905,1)"><path transform="translate(-15.43,0) scale(0.01084,-0.01084)" d="M763 0H583V1147Q518 1085 412.5 1023Q307 961 223 930V1104Q374 1175 487 1276Q600 1377 647 1472H763Z" stroke="#000" stroke-width="46.1"/><text x="-3.09" y="0" text-anchor="start" font-size="22.2" stroke="#000" stroke-width="0.5" xml:space="preserve">.0</text></g>
<g transform="translate(55.90,81.10) rotate(-90) scale(0.905,1)"><path transform="translate(-15.43,0) scale(0.01084,-0.01084)" d="M763 0H583V1147Q518 1085 412.5 1023Q307 961 223 930V1104Q374 1175 487 1276Q600 1377 647 1472H763Z" stroke="#000" stroke-width="46.1"/><text x="-3.09" y="0" text-anchor="start" font-size="22.2" stroke="#000" stroke-width="0.5" xml:space="preserve">.0</text></g>
<g transform="translate(384.00,665.90) scale(0.970,1)"><path transform="translate(-66.62,0) scale(0.01050,-0.01050)" d="M763 0H583V1147Q518 1085 412.5 1023Q307 961 223 930V1104Q374 1175 487 1276Q600 1377 647 1472H763Z" stroke="#000" stroke-width="28.6"/><text x="-54.66" y="0" text-anchor="start" font-size="21.5" stroke="#000" stroke-width="0.3" xml:space="preserve"> − Specificity</text></g>
<text transform="translate(17.20,322.00) rotate(-90) scale(0.970,1)" text-anchor="middle" font-size="21.5" stroke="#000" stroke-width="0.3" xml:space="preserve">Sensitivity</text>
<text transform="translate(343.50,18.70) scale(1.092,1)" text-anchor="middle" font-size="22.0" font-weight="bold" stroke="#000" stroke-width="0.15" xml:space="preserve">ROC curve for BC</text>
<text transform="translate(558.00,395.60) scale(0.970,1)" text-anchor="middle" font-size="21.2" stroke="#000" stroke-width="0.18" xml:space="preserve">AUC</text>
<line x1="456" y1="421.0" x2="494.8" y2="421.0" stroke="#00CD00" stroke-width="1.5" stroke-opacity="0.78"/>
<text transform="translate(513.30,428.20) scale(0.985,1)" text-anchor="start" font-size="21.2" stroke="#000" stroke-width="0.18" xml:space="preserve">PLR  : 0.593</text>
<line x1="456" y1="446.0" x2="494.8" y2="446.0" stroke="#000000" stroke-width="1.5" stroke-opacity="0.9"/>
<text transform="translate(513.30,453.20) scale(0.985,1)" text-anchor="start" font-size="21.2" stroke="#000" stroke-width="0.18" xml:space="preserve">MLR : 0.572</text>
<line x1="456" y1="471.0" x2="494.8" y2="471.0" stroke="#FF0000" stroke-width="1.5" stroke-opacity="0.78"/>
<text transform="translate(513.30,478.20) scale(0.985,1)" text-anchor="start" font-size="21.2" stroke="#000" stroke-width="0.18" xml:space="preserve">NLR : 0.569</text>
<line x1="456" y1="496.0" x2="494.8" y2="496.0" stroke="#0000FF" stroke-width="1.5" stroke-opacity="0.85"/>
<text transform="translate(513.30,503.20) scale(0.985,1)" text-anchor="start" font-size="21.2" stroke="#000" stroke-width="0.18" xml:space="preserve">SII : 0.562</text>
<line x1="456" y1="521.0" x2="494.8" y2="521.0" stroke="#00FFFF" stroke-width="1.5" stroke-opacity="0.78"/>
<text transform="translate(513.30,528.20) scale(0.985,1)" text-anchor="start" font-size="21.2" stroke="#000" stroke-width="0.18" xml:space="preserve">SIRI: 0.553</text>
<line x1="456" y1="546.0" x2="494.8" y2="546.0" stroke="#FF00FF" stroke-width="1.5" stroke-opacity="0.78"/>
<text transform="translate(513.30,553.20) scale(0.985,1)" text-anchor="start" font-size="21.2" stroke="#000" stroke-width="0.18" xml:space="preserve">AISI: 0.550</text>
</g>
</svg>
</body></html>
